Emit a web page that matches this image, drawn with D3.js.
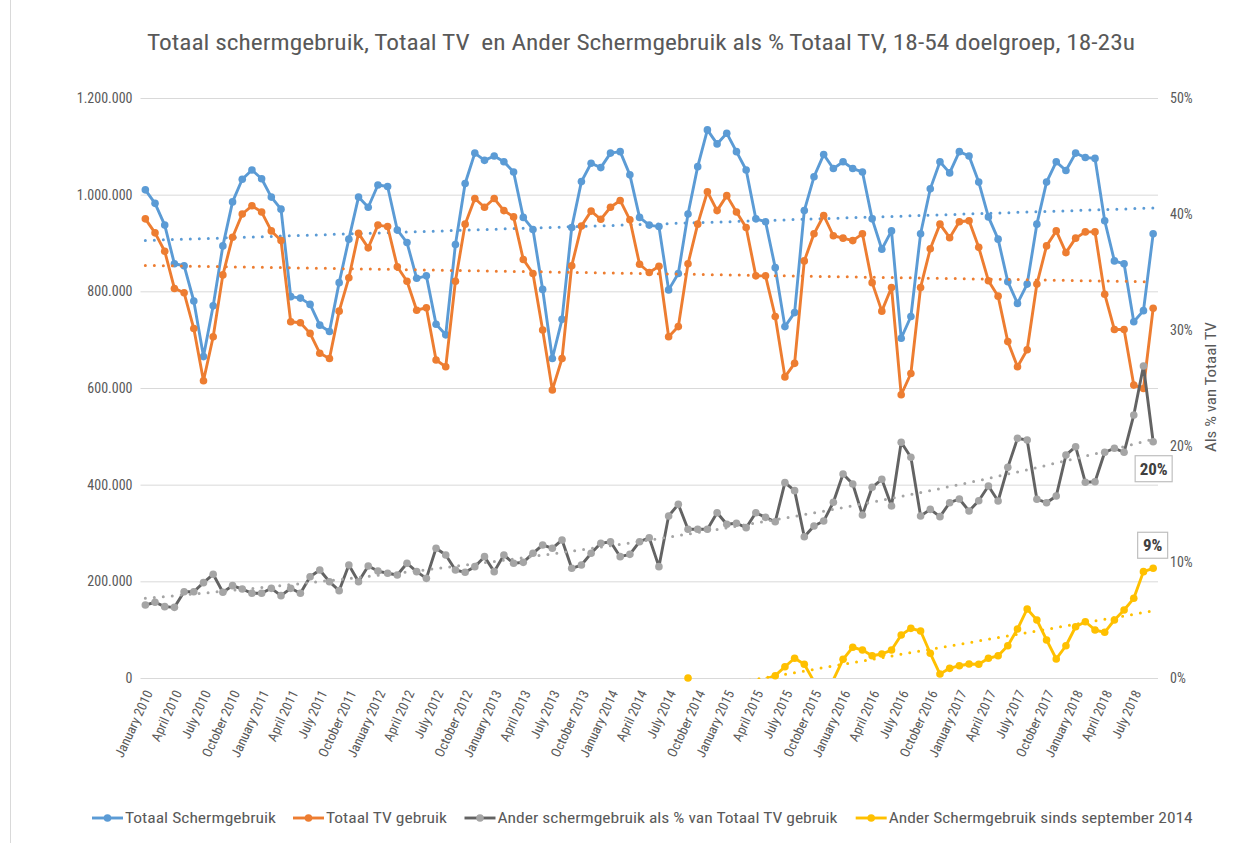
<!DOCTYPE html>
<html><head><meta charset="utf-8">
<script src="https://cdn.jsdelivr.net/npm/d3@7"></script>
<style>
body{margin:0;background:#fff}
svg{display:block}
text{font-family:"Liberation Sans Narrow","Arial Narrow","Roboto Condensed",Roboto,"Noto Sans",sans-serif;fill:#595959}
</style>
</head><body>
<svg id="c" width="1254" height="843"></svg>
<script>
// ---------------- DATA ----------------
const monthNames = ["January","February","March","April","May","June","July","August","September","October","November","December"];
const years = [2010,2011,2012,2013,2014,2015,2016,2017,2018];
const nMonths = 105; // January 2010 .. September 2018
const categories = [];
for (const y of years) for (const m of monthNames) if (categories.length < nMonths) categories.push(m + " " + y);

// Totaal Schermgebruik (x1000)
const totaalScherm = [
 1010, 982, 937, 857, 853, 780, 665, 770, 894, 985,
 1032,1051,1033, 995, 970, 789, 786, 773, 730, 717,
 818, 908, 995, 974,1020,1017, 927, 901, 827, 832,
 732, 710, 897,1023,1086,1071,1080,1068,1047, 953,
 928, 804, 661, 742, 932,1027,1065,1056,1086,1089,
 1041, 953, 937, 934, 803, 837, 960,1058,1134,1105,
 1127,1089,1051, 950, 944, 849, 727, 756, 967,1037,
 1083,1054,1068,1054,1047, 950, 887, 925, 703, 748,
 919,1012,1068,1045,1089,1080,1026, 954, 908, 820,
 775, 815, 939,1026,1068,1050,1086,1077,1075, 946,
 863, 857, 737, 760, 919];

// Totaal TV gebruik (x1000)
const totaalTV = [
 950, 921, 883, 806, 797, 723, 615, 706, 834, 912,
 960, 977, 964, 925, 905, 737, 735, 713, 672, 661,
 759, 828, 920, 890, 937, 934, 851, 821, 761, 766,
 658, 644, 821, 939, 992, 974, 992, 967, 954, 866,
 837, 720, 596, 661, 853, 935, 966, 949, 974, 988,
 948, 856, 839, 852, 706, 727, 857, 939,1006, 967,
 998, 964, 932, 832, 832, 748, 623, 651, 863, 919,
 957, 915, 910, 905, 919, 818, 759, 808, 586, 630,
 808, 888, 939, 911, 944, 946, 891, 822, 790, 696,
 644, 679, 815, 894, 925, 880, 910, 923, 923, 794,
 721, 721, 606, 599, 765];

// Ander schermgebruik als % van Totaal TV gebruik
const anderPct = [
 6.29, 6.53, 6.15, 6.09, 7.44, 7.44, 8.22, 8.94, 7.39, 7.96,
 7.67, 7.30, 7.30, 7.73, 7.10, 7.73, 7.30, 8.73, 9.31, 8.30,
 7.53, 9.74, 8.30, 9.66, 9.22, 9.03, 8.88, 9.89, 9.17, 8.59,
 11.18,10.60, 9.31, 9.11, 9.60,10.46, 9.17,10.60, 9.89, 9.97,
 10.75,11.47,11.18,11.90, 9.46, 9.74,10.75,11.61,11.75,10.46,
 10.66,11.75,12.09, 9.60,13.97,14.97,12.82,12.82,12.82,14.25,
 13.25,13.34,12.96,14.25,13.85,13.47,16.84,16.15,12.18,13.10,
 13.53,15.15,17.59,16.72,14.05,16.44,17.13,14.83,20.32,19.03,
 13.97,14.54,13.91,15.11,15.43,14.40,15.28,16.55,15.26,18.16,
 20.66,20.52,15.41,15.11,15.69,19.22,19.94,16.87,16.92,19.46,
 19.80,19.46,22.67,26.90,20.37];

// Ander Schermgebruik sinds september 2014 (%)
const sindsStart = "September 2014";
const sindsSep2014 = [
 0.00,-0.30,-0.80,-0.40,-0.60,-0.50,-0.40,-0.30,-0.10, 0.20,
 0.97, 1.70, 1.18,-0.30,-0.80,-0.15, 1.61, 2.65, 2.41, 1.92,
 2.07, 2.41, 3.71, 4.28, 4.05, 2.13, 0.34, 0.83, 1.06, 1.21,
 1.18, 1.70, 1.92, 2.78, 4.22, 5.95, 5.00, 3.28, 1.64, 2.78,
 4.42, 4.85, 4.14, 3.94, 5.00, 5.86, 6.87, 9.17, 9.46];

const leftTicks = [0,200,400,600,800,1000,1200];
const leftTickLabels = ["0","200.000","400.000","600.000","800.000","1.000.000","1.200.000"];
const rightTicks = [0,10,20,30,40,50];
const rightTickLabels = ["0%","10%","20%","30%","40%","50%"];

const seriesNames = ["Totaal Schermgebruik","Totaal TV gebruik","Ander schermgebruik als % van Totaal TV gebruik","Ander Schermgebruik sinds september 2014"];
const titleText = "Totaal schermgebruik, Totaal TV  en Ander Schermgebruik als % Totaal TV, 18-54 doelgroep, 18-23u";
const rightAxisTitle = "Als % van Totaal TV";

// ---------------- LAYOUT ----------------
const svg = d3.select("#c");
const L = 140.5, R = 1158, T = 98, B = 678;
const C = {blue:"#5b9bd5", orange:"#ed7d31", grayLine:"#636363", grayMark:"#a5a5a5", yellow:"#ffc000", grid:"#d9d9d9"};

const x = d3.scalePoint().domain(categories).range([L, R]).padding(0.5);
const yL = d3.scaleLinear().domain([0,1200]).range([B, T]);
const yR = d3.scaleLinear().domain([0,50]).range([B, T]);

// outer left border
svg.append("line").attr("x1",10.5).attr("x2",10.5).attr("y1",0).attr("y2",843).attr("stroke","#d9d9d9");

// title
svg.append("text").attr("x",641).attr("y",50).attr("text-anchor","middle")
  .style("white-space","pre")
  .attr("font-size",22).attr("textLength",988).attr("lengthAdjust","spacingAndGlyphs").text(titleText);

// left axis with gridlines
const gL = svg.append("g").attr("transform",`translate(${L},0)`)
  .call(d3.axisLeft(yL).tickValues(leftTicks).tickFormat((d,i)=>leftTickLabels[i]).tickSize(-(R-L)).tickPadding(8));
gL.select(".domain").remove();
gL.selectAll("line").attr("stroke",C.grid).attr("stroke-width",1);
gL.selectAll("text").attr("font-size",14).attr("fill","#595959");

// right axis
const gR = svg.append("g").attr("transform",`translate(${R},0)`)
  .call(d3.axisRight(yR).tickValues(rightTicks).tickFormat((d,i)=>rightTickLabels[i]).tickSize(0).tickPadding(12));
gR.select(".domain").remove();
gR.selectAll("text").attr("font-size",14).attr("fill","#595959");

svg.append("text").attr("transform","translate(1216,387) rotate(-90)").attr("text-anchor","middle")
  .attr("font-size",15).attr("textLength",130).attr("lengthAdjust","spacingAndGlyphs").text(rightAxisTitle);

// bottom axis labels
const xTickVals = categories.filter((d,i)=>i%3===0);
const gB = svg.append("g").attr("transform",`translate(0,${B})`)
  .call(d3.axisBottom(x).tickValues(xTickVals).tickSize(0));
gB.select(".domain").remove();
gB.selectAll("text").attr("x",0).attr("y",0).attr("dy","0.35em")
  .attr("text-anchor","end").attr("font-size",13.5).attr("fill","#595959")
  .attr("transform","translate(3,13) rotate(-65)");

// clip
svg.append("defs").append("clipPath").attr("id","plotclip")
  .append("rect").attr("x",L-10).attr("y",T-20).attr("width",R-L+20).attr("height",B-T+20);

const plot = svg.append("g");

function linReg(xs, ys){
  const n=xs.length, mx=d3.mean(xs), my=d3.mean(ys);
  let sxy=0,sxx=0; for(let i=0;i<n;i++){sxy+=(xs[i]-mx)*(ys[i]-my);sxx+=(xs[i]-mx)**2;}
  const b=sxy/sxx; return {a:my-b*mx,b};
}

function drawSeries(vals, idx0, ys, lineColor, markColor, trendColor, trendType, id){
  const pts = vals.map((v,k)=>({i:idx0+k, v}));
  const g = plot.append("g");
  const xs = pts.map(p=>p.i), vs = pts.map(p=>p.v);
  let trendPts;
  if (trendType === "exp"){
    const r = linReg(xs, vs.map(Math.log));
    trendPts = d3.range(xs[0], xs[xs.length-1]+0.001, 0.5).map(i=>({i, v:Math.exp(r.a+r.b*i)}));
  } else {
    const r = linReg(xs, vs);
    trendPts = [xs[0], xs[xs.length-1]].map(i=>({i, v:r.a+r.b*i}));
  }
  const xi = i => x(categories[0]) + i*x.step();
  g.append("path").datum(pts).attr("clip-path","url(#plotclip)")
    .attr("d", d3.line().x(p=>xi(p.i)).y(p=>ys(p.v)))
    .attr("fill","none").attr("stroke",lineColor).attr("stroke-width",2.9).attr("stroke-linejoin","round");
  g.selectAll("circle").data(pts.filter(p=>p.v>=0)).join("circle")
    .attr("cx",p=>xi(p.i)).attr("cy",p=>ys(p.v)).attr("r",3.8).attr("fill",markColor);
  svg.select("defs").append("clipPath").attr("id","tc"+id)
    .append("rect").attr("x",L).attr("y",T-20).attr("width",R-L).attr("height",B-T+21);
  g.append("path").datum(trendPts).attr("clip-path","url(#tc"+id+")")
    .attr("d", d3.line().x(p=>xi(p.i)).y(p=>ys(p.v)))
    .attr("fill","none").attr("stroke",trendColor).attr("stroke-width",3)
    .attr("stroke-linecap","round").attr("stroke-dasharray","0 9");
  return pts;
}

drawSeries(totaalScherm, 0, yL, C.blue, C.blue, C.blue, "lin", "b");
drawSeries(totaalTV, 0, yL, C.orange, C.orange, C.orange, "lin", "o");
const gp = drawSeries(anderPct, 0, yR, C.grayLine, C.grayMark, C.grayMark, "exp", "g");
const sIdx = categories.indexOf(sindsStart);
const yp = drawSeries(sindsSep2014, sIdx, yR, C.yellow, C.yellow, C.yellow, "lin", "y");

// data labels
function dataLabel(cx, cy, txt, w){
  const g = svg.append("g");
  g.append("rect").attr("x",cx-w/2).attr("y",cy-13).attr("width",w).attr("height",26)
    .attr("fill","#fff").attr("stroke","#bfbfbf").attr("stroke-width",1.2);
  g.append("text").attr("x",cx).attr("y",cy+6).attr("text-anchor","middle")
    .attr("font-size",17).attr("font-weight","bold").style("fill","#404040").text(txt);
}
const lastG = gp[gp.length-1], lastY = yp[yp.length-1];
const xLast = x(categories[lastG.i]);
dataLabel(xLast+0.5, yR(lastG.v)+27, Math.round(lastG.v)+"%", 37);
dataLabel(xLast-0.5, yR(lastY.v)-23, Math.round(lastY.v)+"%", 30);

// legend
const legColors = [[C.blue,C.blue],[C.orange,C.orange],[C.grayLine,C.grayMark],[C.yellow,C.yellow]];
const legX = [92, 293, 464.5, 855.7];
const legW = [151, 121, 340, 304];
const legY = 818;
seriesNames.forEach((name,k)=>{
  const g = svg.append("g");
  g.append("line").attr("x1",legX[k]).attr("x2",legX[k]+31).attr("y1",legY).attr("y2",legY)
    .attr("stroke",legColors[k][0]).attr("stroke-width",2.9);
  g.append("circle").attr("cx",legX[k]+15.5).attr("cy",legY).attr("r",3.8).attr("fill",legColors[k][1]);
  g.append("text").attr("x",legX[k]+33).attr("y",legY+5).attr("font-size",15)
    .attr("textLength",legW[k]).attr("lengthAdjust","spacingAndGlyphs").text(name);
});

if (totaalScherm.length!==nMonths||totaalTV.length!==nMonths||anderPct.length!==nMonths||sIdx+sindsSep2014.length!==nMonths)
  svg.append("text").attr("x",20).attr("y",20).style("fill","red").text("LENGTH MISMATCH");
</script>
</body></html>
